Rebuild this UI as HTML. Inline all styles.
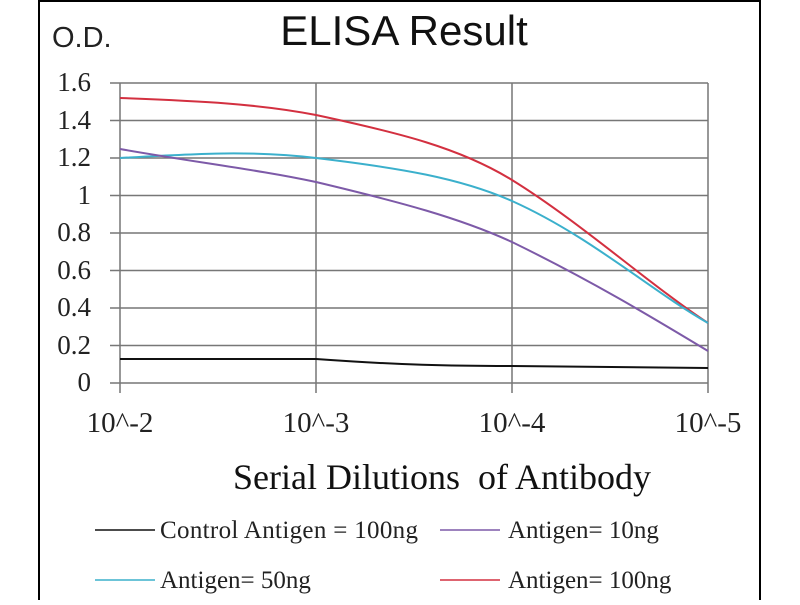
<!DOCTYPE html><html><head><style>body{margin:0;background:#fff}</style></head><body>
<svg width="800" height="600" xmlns="http://www.w3.org/2000/svg" font-family="Liberation Serif, serif">
<rect width="800" height="600" fill="#fff"/>
<line x1="39" y1="0" x2="39" y2="600" stroke="#000" stroke-width="2"/>
<line x1="760" y1="0" x2="760" y2="600" stroke="#000" stroke-width="2"/>
<line x1="39" y1="1" x2="760" y2="1" stroke="#000" stroke-width="2"/>
<text x="52" y="47" font-family="Liberation Sans, sans-serif" font-size="29" fill="#222">O.D.</text>
<text x="404" y="45" font-family="Liberation Sans, sans-serif" font-size="42" text-anchor="middle" fill="#111">ELISA Result</text>
<g stroke="#777" stroke-width="1.5">
<line x1="110" y1="83" x2="708" y2="83"/><line x1="110" y1="120.5" x2="708" y2="120.5"/>
<line x1="110" y1="158" x2="708" y2="158"/><line x1="110" y1="195.5" x2="708" y2="195.5"/>
<line x1="110" y1="233" x2="708" y2="233"/><line x1="110" y1="270.5" x2="708" y2="270.5"/>
<line x1="110" y1="308" x2="708" y2="308"/><line x1="110" y1="345.5" x2="708" y2="345.5"/>
<line x1="110" y1="383" x2="708" y2="383"/>
<line x1="120" y1="83" x2="120" y2="393"/><line x1="316" y1="83" x2="316" y2="393"/>
<line x1="512" y1="83" x2="512" y2="393"/><line x1="708" y1="83" x2="708" y2="393"/>
</g>
<g font-size="27" text-anchor="end" fill="#222">
<text x="91" y="91">1.6</text><text x="91" y="129">1.4</text><text x="91" y="166">1.2</text>
<text x="91" y="204">1</text><text x="91" y="241">0.8</text><text x="91" y="279">0.6</text>
<text x="91" y="316">0.4</text><text x="91" y="354">0.2</text><text x="91" y="391">0</text>
</g>
<g font-size="29" text-anchor="middle" fill="#222">
<text x="120" y="432">10^-2</text><text x="316" y="432">10^-3</text>
<text x="512" y="432">10^-4</text><text x="708" y="432">10^-5</text>
</g>
<text x="442" y="489" font-size="36" text-anchor="middle" fill="#111">Serial Dilutions&#160; of Antibody</text>
<g fill="none" stroke-width="2">
<path d="M120,98 C200,101 260,104 316,115 C400,133 460,148 512,180 C580,222 650,285 708,323" stroke="#d33040"/>
<path d="M120,158 C190,154 250,150 316,158 C400,168 460,178 512,201 C590,236 650,290 708,323" stroke="#3bb0cc"/>
<path d="M120,149 C200,163 260,170 316,182 C400,202 460,218 512,242 C590,280 650,316 708,351" stroke="#7d5aa8"/>
<path d="M120,359 L316,359 C400,365 450,366 512,366 L708,368" stroke="#111"/>
</g>
<g stroke-width="1.5">
<line x1="95" y1="530" x2="155" y2="530" stroke="#111"/>
<line x1="440" y1="530" x2="500" y2="530" stroke="#7d5aa8"/>
<line x1="95" y1="580" x2="155" y2="580" stroke="#3bb0cc"/>
<line x1="440" y1="580" x2="500" y2="580" stroke="#d33040"/>
</g>
<g font-size="25" fill="#222">
<text x="160" y="538" textLength="258">Control Antigen = 100ng</text>
<text x="508" y="538">Antigen= 10ng</text>
<text x="160" y="588">Antigen= 50ng</text>
<text x="508" y="588">Antigen= 100ng</text>
</g>
</svg>
</body></html>
